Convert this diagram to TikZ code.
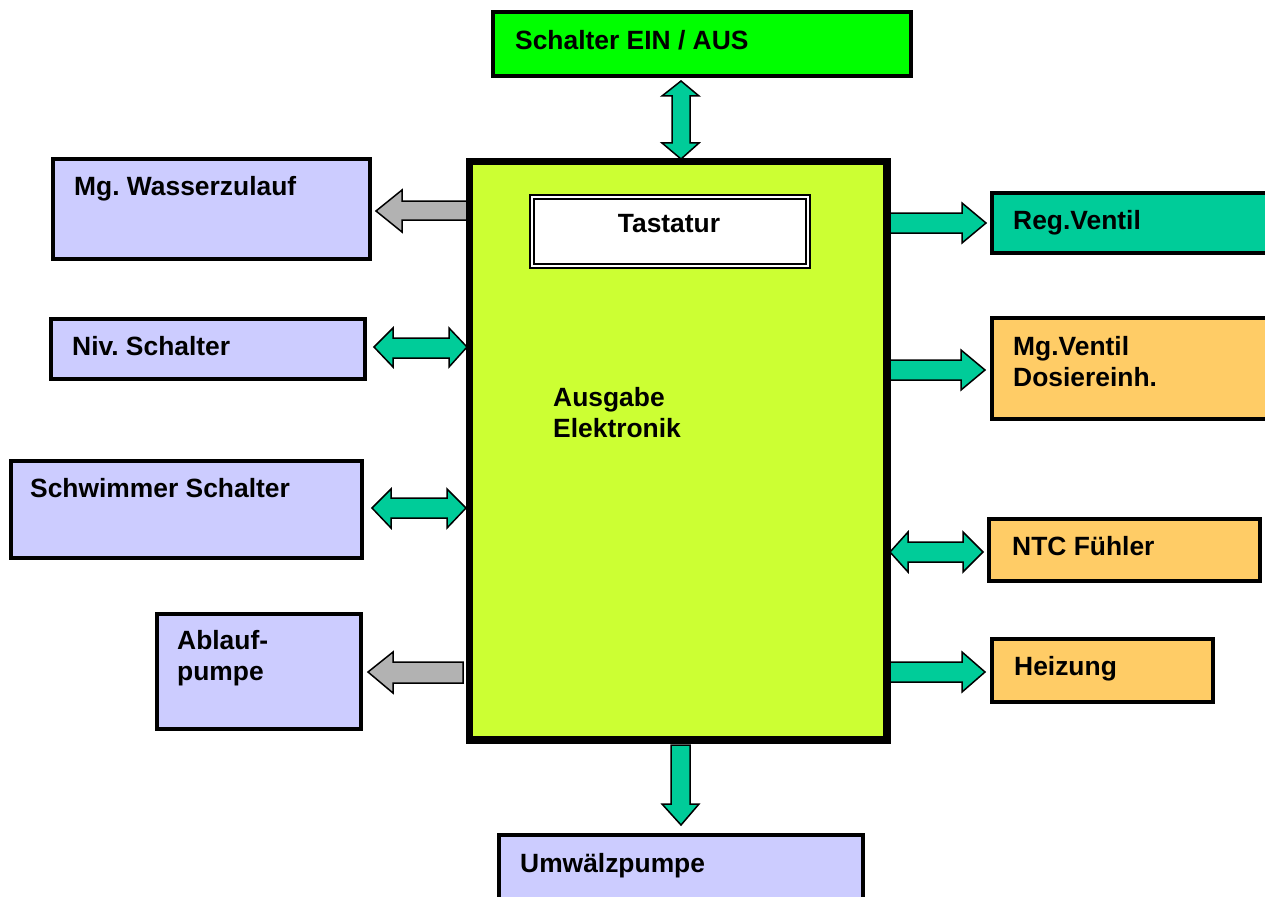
\documentclass[tikz,border=0pt]{standalone}
\usepackage{fontspec}
\setmainfont{Liberation Sans}
\frenchspacing
\definecolor{lav}{HTML}{CCCCFF}
\definecolor{brightgreen}{HTML}{00FF00}
\definecolor{lime}{HTML}{CCFF33}
\definecolor{tealc}{HTML}{00CC99}
\definecolor{orangec}{HTML}{FFCC66}
\definecolor{grayc}{HTML}{B2B2B2}
\begin{document}
\begin{tikzpicture}[x=1pt,y=-1pt,
  box/.style={draw=black, line width=4pt, anchor=north west, inner sep=0pt, outer sep=0pt},
  lbl/.style={anchor=base west, inner sep=0pt, font=\bfseries\fontsize{26.4}{31}\selectfont, align=left},
  tarrow/.style={draw=black, line width=1.5pt, fill=tealc, line join=miter},
  garrow/.style={draw=black, line width=1.5pt, fill=grayc, line join=miter}]
\useasboundingbox (0,0) rectangle (1265,896);
\begin{scope}
\clip (0,0) rectangle (1265,896);
% boxes
\node[box, fill=brightgreen, minimum width=418pt, minimum height=64pt] (sch) at (493,12) {};
\node[box, fill=lav, minimum width=317pt, minimum height=100pt] (wz) at (53,159) {};
\node[box, fill=lav, minimum width=314pt, minimum height=60pt] (niv) at (51,319) {};
\node[box, fill=lav, minimum width=351pt, minimum height=97pt] (sw) at (11,461) {};
\node[box, fill=lav, minimum width=204pt, minimum height=115pt] (ab) at (157,614) {};
\node[box, fill=tealc, minimum width=280pt, minimum height=60pt] (reg) at (992,193) {};
\node[box, fill=orangec, minimum width=280pt, minimum height=101pt] (mgv) at (992,318) {};
\node[box, fill=orangec, minimum width=271pt, minimum height=62pt] (ntc) at (989,519) {};
\node[box, fill=orangec, minimum width=221pt, minimum height=63pt] (hz) at (992,639) {};
\node[box, fill=lav, minimum width=364pt, minimum height=70pt] (uw) at (499,835) {};
% arrows (drawn before main box)
\draw[tarrow] (681,81) -- (699,96) -- (690,96) -- (690,143) -- (699,143) -- (681,159) -- (662,143) -- (672,143) -- (672,96) -- (662,96) -- cycle;
\draw[tarrow] (681,825) -- (699,804) -- (690,804) -- (690,745) -- (671,745) -- (671,804) -- (662,804) -- cycle;
\draw[garrow] (376,211) -- (402,190) -- (402,201) -- (472,201) -- (472,220) -- (402,220) -- (402,232) -- cycle;
\draw[tarrow] (374,347) -- (393,328) -- (393,338) -- (449,338) -- (449,328) -- (467,347) -- (449,367) -- (449,358) -- (393,358) -- (393,367) -- cycle;
\draw[tarrow] (372,508) -- (391,489) -- (391,498) -- (447,498) -- (447,489) -- (466,508) -- (447,528) -- (447,518) -- (391,518) -- (391,528) -- cycle;
\draw[garrow] (368,672) -- (393,652) -- (393,662) -- (463,662) -- (463,683) -- (393,683) -- (393,693) -- cycle;
\draw[tarrow] (986,223) -- (962,203) -- (962,213) -- (885,213) -- (885,233) -- (962,233) -- (962,243) -- cycle;
\draw[tarrow] (985,370) -- (961,350) -- (961,360) -- (885,360) -- (885,380) -- (961,380) -- (961,390) -- cycle;
\draw[tarrow] (890,552) -- (908,532) -- (908,542) -- (963,542) -- (963,532) -- (983,552) -- (963,572) -- (963,562) -- (908,562) -- (908,572) -- cycle;
\draw[tarrow] (985,672) -- (962,652) -- (962,662) -- (885,662) -- (885,682) -- (962,682) -- (962,692) -- cycle;
% main box
\node[box, line width=7.5pt, fill=lime, minimum width=417.5pt, minimum height=578.5pt] (main) at (469.5,161.5) {};
\node[draw=black, line width=2pt, double=white, double distance=2pt, fill=white, anchor=north west, inner sep=0pt, minimum width=276pt, minimum height=69pt] (tast) at (531,196) {};
\end{scope}
% labels
\node[lbl] (tsch) at (515,50) {Schalter EIN / AUS};
\node[lbl] (twz) at (74,195) {Mg. Wasserzulauf};
\node[lbl] (tniv) at (72,355) {Niv. Schalter};
\node[lbl] (tsw) at (30,497) {Schwimmer Schalter};
\node[lbl] (tab) at (177,680) {Ablauf-\\pumpe};
\node[lbl, anchor=base] (ttast) at (669,232) {Tastatur};
\node[lbl] (tmain) at (553,437) {Ausgabe\\Elektronik};
\node[lbl] (treg) at (1013,229) {Reg.Ventil};
\node[lbl] (tmgv) at (1013,386) {Mg.Ventil\\Dosiereinh.};
\node[lbl] (tntc) at (1012,555) {NTC Fühler};
\node[lbl] (thz) at (1014,675) {Heizung};
\node[lbl] (tuw) at (520,872) {Umwälzpumpe};
\end{tikzpicture}
\end{document}
